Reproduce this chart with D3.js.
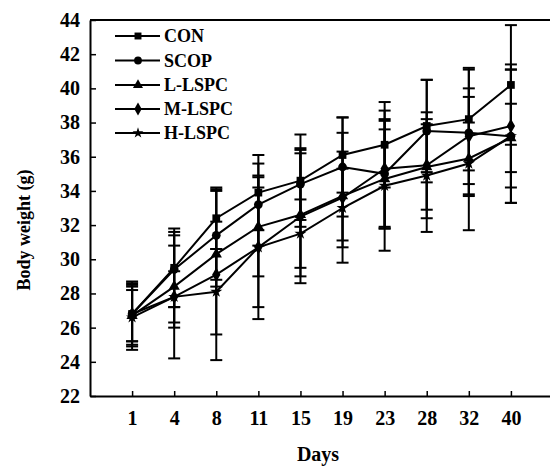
<!DOCTYPE html>
<html>
<head>
<meta charset="utf-8">
<script src="https://cdn.jsdelivr.net/npm/d3@7"></script>
<style>
  body { margin: 0; background: #fff; }
  text { font-family: "Liberation Serif", "Times New Roman", serif; font-weight: bold; fill: #000; }
</style>
</head>
<body>
<svg id="chart"></svg>
<script>
var w = 550; // Width of the SVG element
var h = 466; // Height of the SVG element
var margin = { top: 20, left: 90, bottom: 70 };

// Data
var days = ["1", "4", "8", "11", "15", "19", "23", "28", "32", "40"];
var seriesNames = ["CON", "SCOP", "L-LSPC", "M-LSPC", "H-LSPC"];
var yTicks = [22, 24, 26, 28, 30, 32, 34, 36, 38, 40, 42, 44];

var conMean  = [26.8, 29.5, 32.4, 33.9, 34.6, 36.1, 36.7, 37.8, 38.2, 40.2];
var conSd    = [1.9, 2.3, 1.8, 2.2, 2.7, 2.2, 2.5, 2.7, 3.0, 3.5];
var scopMean = [26.8, 29.4, 31.4, 33.2, 34.4, 35.4, 35.0, 37.5, 37.4, 37.2];
var scopSd   = [1.8, 2.2, 2.6, 2.4, 2.1, 2.9, 3.2, 3.0, 3.7, 3.9];
var lMean    = [26.7, 28.4, 30.3, 31.9, 32.6, 33.7, 34.7, 35.4, 35.9, 37.1];
var lSd      = [1.5, 2.4, 1.9, 2.9, 3.6, 2.6, 2.9, 2.5, 2.1, 2.0];
var mMean    = [26.8, 27.8, 29.1, 30.7, 32.5, 33.6, 35.3, 35.5, 37.2, 37.8];
var mSd      = [1.6, 3.6, 5.0, 4.2, 3.9, 3.8, 3.4, 3.1, 2.8, 3.6];
var hMean    = [26.6, 27.8, 28.1, 30.7, 31.5, 33.0, 34.3, 34.9, 35.6, 37.2];
var hSd      = [1.9, 1.5, 2.5, 3.5, 2.0, 2.3, 3.8, 3.3, 3.9, 3.9];

var means = [conMean, scopMean, lMean, mMean, hMean];
var sds = [conSd, scopSd, lSd, mSd, hSd];
var symbols = [d3.symbolSquare, d3.symbolCircle, d3.symbolTriangle, d3.symbolDiamond, d3.symbolStar];
var symbolSizes = [60, 60, 55, 60, 45];

var series = seriesNames.map(function(name, k) {
  return {
    name: name,
    values: days.map(function(d, i) { return { day: d, mean: means[k][i], sd: sds[k][i] }; })
  };
});

var svg = d3.select("#chart").attr("width", w).attr("height", h);

var x = d3.scalePoint()
  .domain(days)
  .range([margin.left, 553])
  .padding(1);

var y = d3.scaleLinear()
  .domain([22, 44])
  .range([h - margin.bottom, margin.top]);

// top frame line
svg.append("line")
  .attr("x1", margin.left).attr("x2", w)
  .attr("y1", y(44)).attr("y2", y(44))
  .attr("stroke", "#000").attr("stroke-width", 2);

// axes
var yAxis = svg.append("g")
  .attr("transform", "translate(" + margin.left + ",0)")
  .call(d3.axisLeft(y).tickValues(yTicks).tickSizeInner(-6).tickSizeOuter(0).tickPadding(10));
yAxis.selectAll("text").style("font-size", "20px");

var xAxis = svg.append("g")
  .attr("transform", "translate(0," + y(22) + ")")
  .call(d3.axisBottom(x).tickSizeInner(-5).tickSizeOuter(0).tickPadding(15));
xAxis.selectAll("text").style("font-size", "20px");

svg.selectAll(".domain").attr("stroke-width", 2);
svg.selectAll(".tick line").attr("stroke-width", 1.5);

// axis titles
svg.append("text")
  .attr("x", 318).attr("y", 461)
  .attr("text-anchor", "middle")
  .style("font-size", "20px")
  .text("Days");

svg.append("text")
  .attr("transform", "translate(30,230) rotate(-90)")
  .attr("text-anchor", "middle")
  .style("font-size", "18px")
  .text("Body weight (g)");

// error bars
var capW = 6;
series.forEach(function(s) {
  var g = svg.append("g").attr("class", "err");
  s.values.forEach(function(v) {
    var cx = x(v.day), top = y(v.mean + v.sd), bot = y(v.mean - v.sd);
    g.append("line").attr("x1", cx).attr("x2", cx).attr("y1", top).attr("y2", bot);
    g.append("line").attr("x1", cx - capW).attr("x2", cx + capW).attr("y1", top).attr("y2", top);
    g.append("line").attr("x1", cx - capW).attr("x2", cx + capW).attr("y1", bot).attr("y2", bot);
  });
  g.selectAll("line").attr("stroke", "#000").attr("stroke-width", 2);
});

// lines
var line = d3.line()
  .x(function(d) { return x(d.day); })
  .y(function(d) { return y(d.mean); });

svg.selectAll(".series")
  .data(series)
  .enter()
  .append("path")
  .attr("class", "series")
  .attr("d", function(d) { return line(d.values); })
  .attr("fill", "none")
  .attr("stroke", "#000")
  .attr("stroke-width", 2);

// markers
series.forEach(function(s, k) {
  svg.selectAll(".m" + k)
    .data(s.values)
    .enter()
    .append("path")
    .attr("class", "m" + k)
    .attr("transform", function(d) { return "translate(" + x(d.day) + "," + y(d.mean) + ")"; })
    .attr("d", d3.symbol().type(symbols[k]).size(symbolSizes[k]))
    .attr("fill", "#000");
});

// legend
var legend = svg.append("g").attr("class", "legend");
var legendY = [36, 60.5, 85, 109, 133];
seriesNames.forEach(function(name, k) {
  var row = legend.append("g").attr("transform", "translate(0," + legendY[k] + ")");
  row.append("line")
    .attr("x1", 115).attr("x2", 160)
    .attr("y1", 0).attr("y2", 0)
    .attr("stroke", "#000").attr("stroke-width", 2);
  row.append("path")
    .attr("transform", "translate(138,0)")
    .attr("d", d3.symbol().type(symbols[k]).size(symbolSizes[k] * 0.8))
    .attr("fill", "#000");
  row.append("text")
    .attr("x", 164).attr("y", 6)
    .style("font-size", "18px")
    .text(name);
});
</script>
</body>
</html>
